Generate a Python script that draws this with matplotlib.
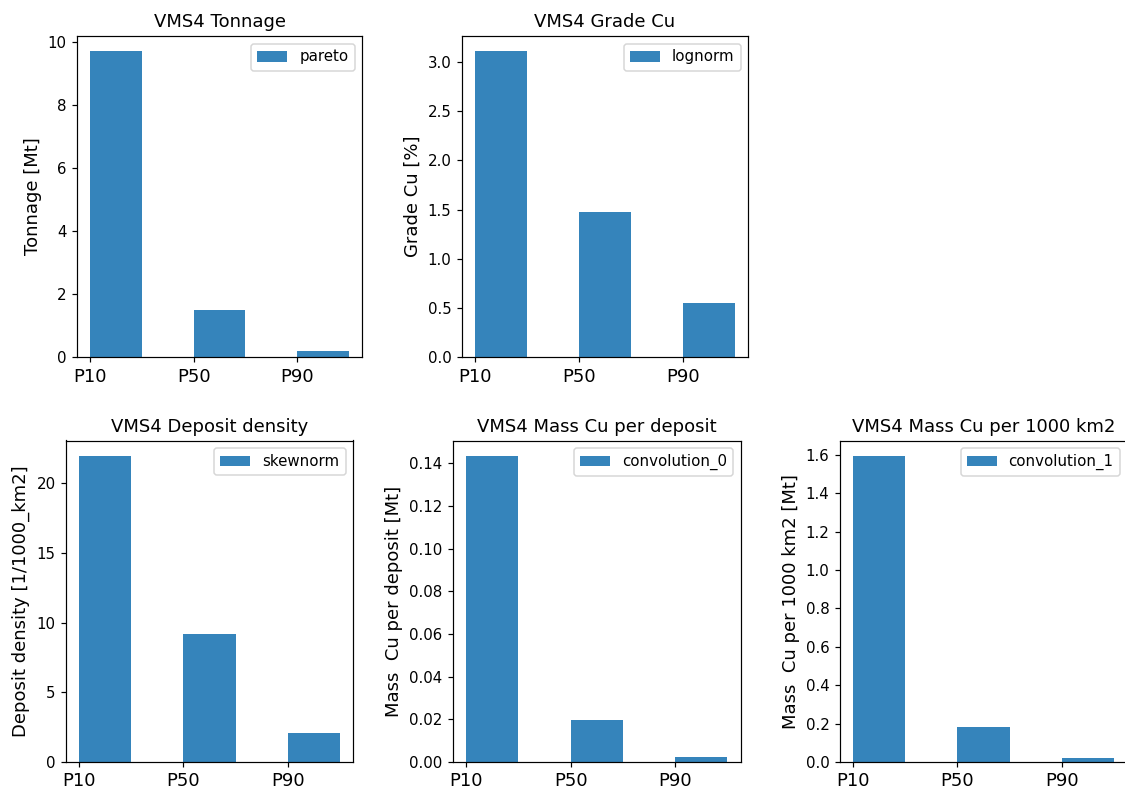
import matplotlib
matplotlib.use('Agg')
import matplotlib.pyplot as plt
import numpy as np

percentiles = ['P10', 'P50', 'P90']

tonnage = [9.72, 1.48, 0.20]
grade_cu = [3.11, 1.47, 0.55]
deposit_density = [21.95, 9.2, 2.1]
mass_cu_deposit = [0.1435, 0.0195, 0.0025]
mass_cu_area = [1.595, 0.18, 0.022]

panels = [
    ('VMS4 Tonnage', 'Tonnage [Mt]', 'pareto', tonnage),
    ('VMS4 Grade Cu', 'Grade Cu [%]', 'lognorm', grade_cu),
    ('VMS4 Deposit density', 'Deposit density [1/1000_km2]', 'skewnorm', deposit_density),
    ('VMS4 Mass Cu per deposit', 'Mass  Cu per deposit [Mt]', 'convolution_0', mass_cu_deposit),
    ('VMS4 Mass Cu per 1000 km2', 'Mass  Cu per 1000 km2 [Mt]', 'convolution_1', mass_cu_area),
]

W, H = 1125, 790
DPI = 108
# axes boxes in pixels: left, bottom, right, top
boxes = [
    (77, 433, 362, 754),
    (462, 433, 748, 754),
    (66, 28, 353, 349.5),
    (453, 28, 740.5, 349.5),
    (840, 28, 1127, 349.5),
]

fig = plt.figure(figsize=(W / DPI, H / DPI), dpi=DPI)

x = np.arange(len(percentiles))
for (title, ylabel, dist, vals), (l, b, r, t) in zip(panels, boxes):
    ax = fig.add_axes([l / W, b / H, (r - l) / W, (t - b) / H])
    ax.bar(x, vals, width=0.5, align='edge', color='tab:blue', alpha=0.9, label=dist)
    ax.set_xticks(x)
    ax.set_xticklabels(percentiles, fontsize=12)
    ax.set_title(title, fontsize=12)
    ax.set_ylabel(ylabel, fontsize=12)
    ax.legend(loc='upper right')

fig.savefig('out.png', dpi=DPI)
